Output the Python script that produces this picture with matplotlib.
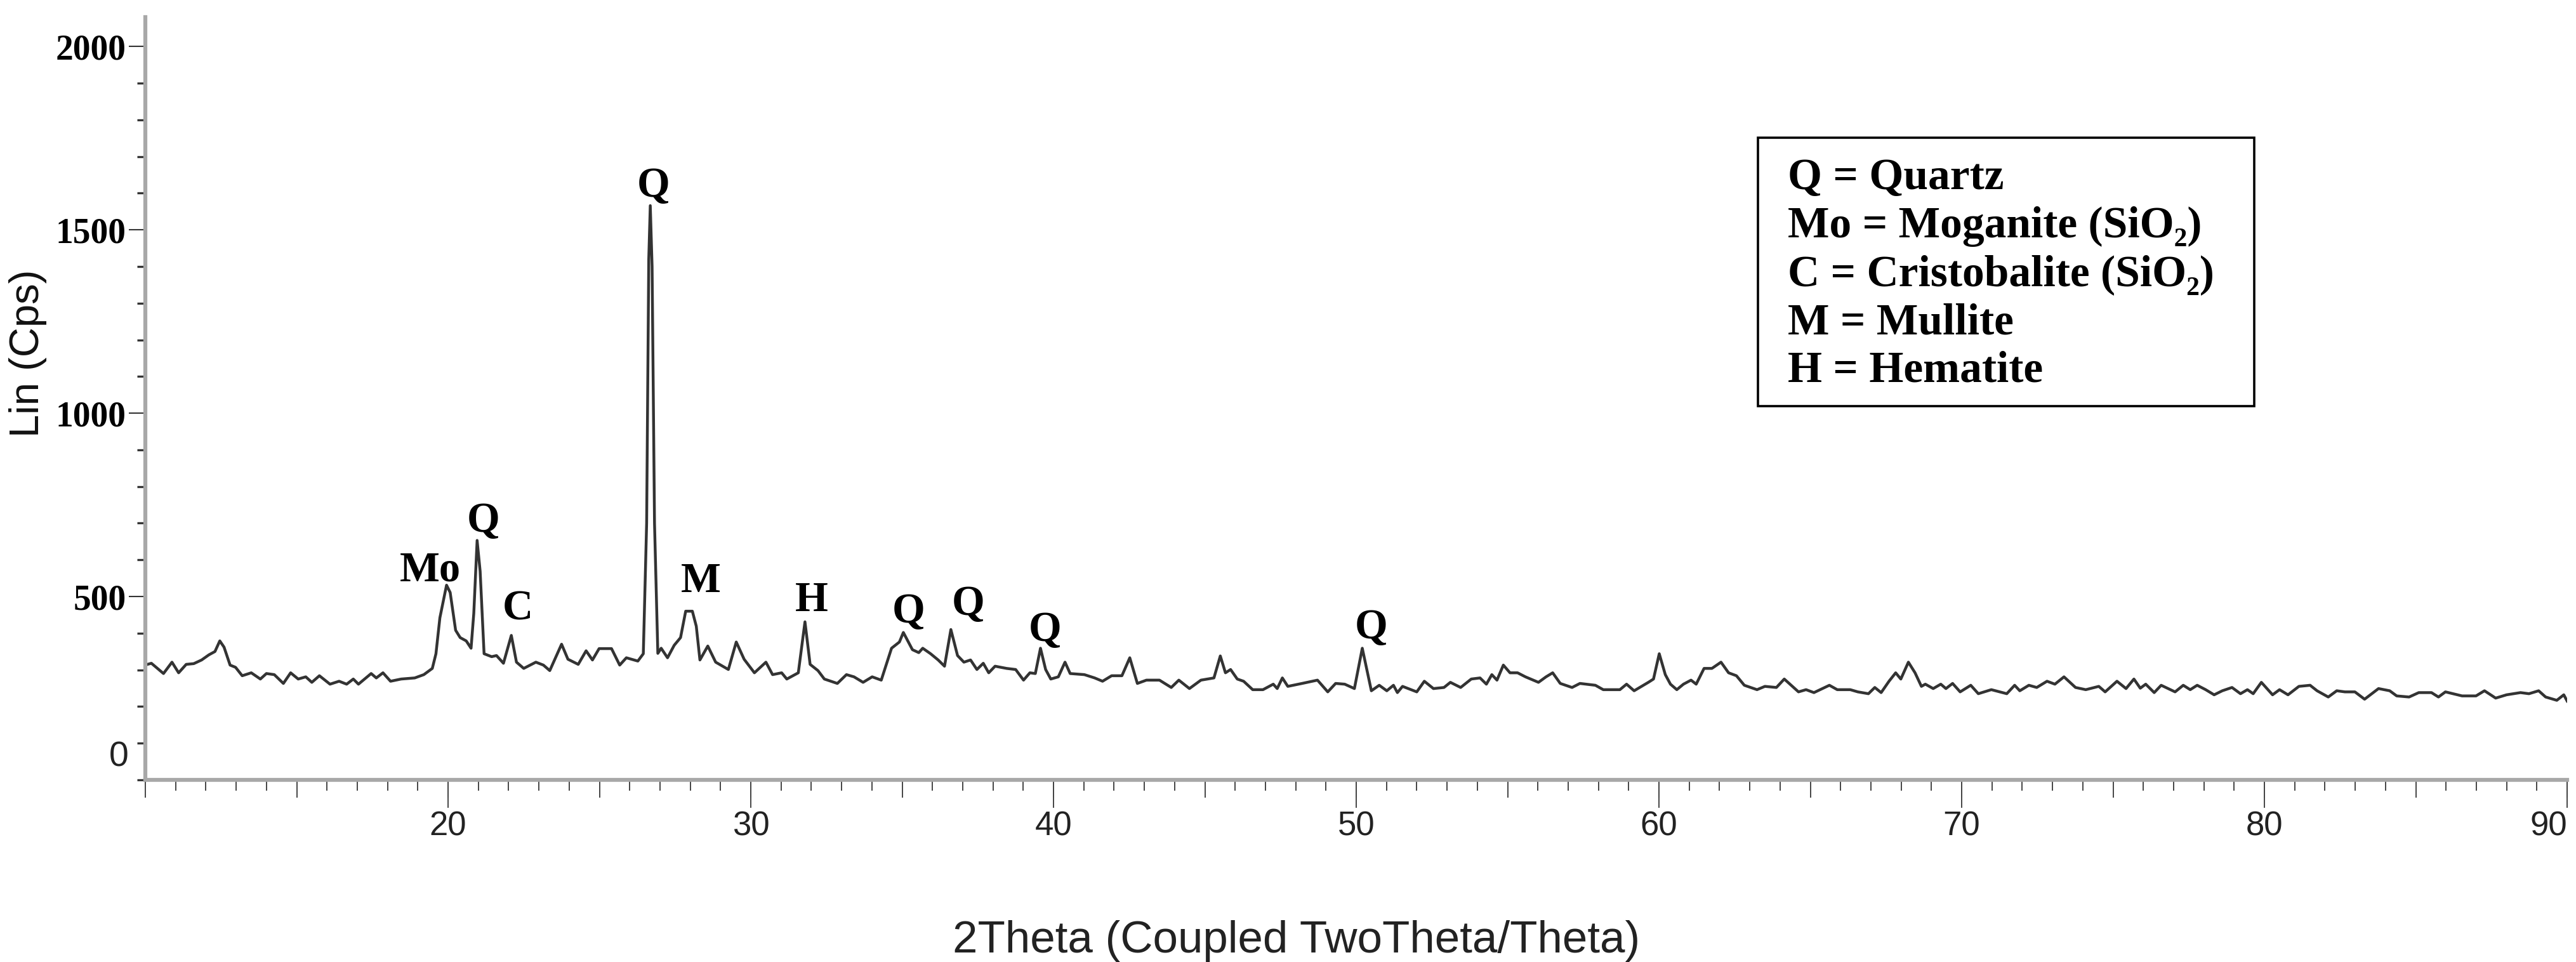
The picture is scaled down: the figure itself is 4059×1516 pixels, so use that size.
import matplotlib
matplotlib.use("Agg")
import matplotlib.pyplot as plt
from matplotlib.ticker import MultipleLocator, FixedLocator, NullFormatter
from matplotlib.patches import Rectangle

# XRD pattern (2theta in degrees, Lin counts)
two_theta = [
    10.0, 10.07, 10.2, 10.6, 10.88, 11.1, 11.35, 11.6, 11.86, 12.1, 12.3, 12.46,
    12.6, 12.8, 12.98, 13.2, 13.5, 13.8, 14.0, 14.26, 14.56, 14.8, 15.05, 15.3,
    15.5, 15.75, 16.1, 16.4, 16.65, 16.87, 17.04, 17.46, 17.63, 17.85, 18.1, 18.45,
    18.9, 19.2, 19.48, 19.6, 19.73, 19.95, 20.07, 20.25, 20.4, 20.6, 20.76, 20.85,
    20.96, 21.06, 21.19, 21.44, 21.6, 21.83, 22.09, 22.26, 22.5, 22.9, 23.15, 23.36,
    23.75, 23.96, 24.3, 24.56, 24.77, 24.99, 25.4, 25.67, 25.89, 26.27, 26.45, 26.56,
    26.63, 26.68, 26.74, 26.82, 26.93, 27.04, 27.25, 27.47, 27.68, 27.85, 28.07, 28.2,
    28.32, 28.58, 28.84, 29.26, 29.52, 29.78, 30.12, 30.5, 30.72, 31.02, 31.19, 31.57,
    31.79, 31.96, 32.22, 32.43, 32.86, 33.16, 33.41, 33.71, 34.01, 34.31, 34.65, 34.91,
    35.04, 35.34, 35.55, 35.68, 35.94, 36.19, 36.4, 36.61, 36.83, 37.04, 37.26, 37.47,
    37.68, 37.86, 38.07, 38.45, 38.75, 39.01, 39.22, 39.4, 39.57, 39.74, 39.91, 40.16,
    40.38, 40.55, 41.02, 41.36, 41.62, 41.92, 42.26, 42.52, 42.77, 43.07, 43.5, 43.89,
    44.14, 44.49, 44.87, 45.3, 45.51, 45.68, 45.85, 46.07, 46.28, 46.58, 46.92, 47.26,
    47.39, 47.56, 47.74, 48.21, 48.72, 49.06, 49.32, 49.62, 49.94, 50.2, 50.5, 50.76,
    51.01, 51.23, 51.36, 51.53, 52.0, 52.25, 52.55, 52.9, 53.11, 53.45, 53.8, 54.09,
    54.3, 54.48, 54.65, 54.86, 55.08, 55.33, 55.59, 56.02, 56.27, 56.49, 56.74, 57.13,
    57.39, 57.9, 58.16, 58.71, 58.93, 59.18, 59.65, 59.82, 60.01, 60.21, 60.38, 60.59,
    60.81, 61.06, 61.23, 61.49, 61.75, 62.05, 62.3, 62.56, 62.82, 63.24, 63.5, 63.88,
    64.14, 64.61, 64.86, 65.12, 65.63, 65.89, 66.32, 66.57, 66.92, 67.13, 67.34, 67.6,
    67.82, 67.99, 68.24, 68.46, 68.67, 68.8, 69.06, 69.31, 69.48, 69.7, 69.95, 70.3,
    70.55, 70.98, 71.49, 71.75, 71.92, 72.22, 72.48, 72.82, 73.08, 73.38, 73.76, 74.1,
    74.53, 74.74, 75.13, 75.43, 75.69, 75.9, 76.08, 76.36, 76.59, 77.05, 77.32, 77.55,
    77.78, 78.06, 78.34, 78.61, 78.93, 79.21, 79.44, 79.63, 79.9, 80.27, 80.5, 80.78,
    81.14, 81.51, 81.74, 82.11, 82.39, 82.66, 82.99, 83.31, 83.77, 84.14, 84.37, 84.78,
    85.1, 85.52, 85.75, 85.98, 86.53, 86.99, 87.27, 87.64, 88.0, 88.46, 88.74, 89.06,
    89.29, 89.66, 89.89, 90.0,
]
intensity = [
    313, 315, 318, 290, 321, 292, 315, 317, 327, 341, 350, 379,
    362, 313, 307, 284, 292, 275, 290, 287, 263, 292, 275, 281,
    266, 284, 261, 269, 261, 275, 261, 290, 278, 292, 269, 275,
    278, 287, 304, 344, 442, 531, 511, 408, 388, 379, 359, 454,
    653, 569, 344, 336, 339, 318, 394, 321, 304, 321, 313, 298,
    370, 329, 315, 352, 327, 358, 358, 313, 333, 324, 344, 700,
    1420, 1566, 1400, 700, 345, 359, 333, 367, 388, 460, 460, 419,
    327, 365, 321, 301, 376, 329, 292, 321, 287, 292, 275, 292,
    431, 315, 298, 275, 263, 287, 281, 266, 281, 272, 359, 376,
    402, 355, 347, 359, 344, 327, 310, 410, 339, 321, 327, 301,
    318, 292, 310, 304, 301, 272, 292, 290, 359, 301, 275, 281,
    321, 290, 287, 278, 269, 284, 284, 333, 263, 272, 272, 252,
    272, 249, 272, 278, 338, 292, 301, 275, 269, 246, 246, 261,
    249, 278, 255, 263, 272, 240, 263, 261, 249, 359, 243, 258,
    243, 258, 238, 255, 240, 269, 249, 252, 266, 252, 275, 278,
    261, 287, 272, 313, 292, 292, 281, 266, 281, 292, 263, 252,
    263, 258, 246, 246, 261, 243, 266, 275, 344, 287, 261, 246,
    261, 272, 261, 304, 304, 321, 292, 284, 258, 246, 255, 252,
    275, 240, 246, 238, 258, 246, 246, 240, 235, 252, 238, 269,
    292, 275, 321, 292, 255, 261, 249, 261, 249, 263, 240, 258,
    235, 246, 235, 258, 243, 258, 252, 269, 261, 281, 252, 246,
    255, 240, 269, 249, 275, 250, 261, 238, 258, 240, 258, 246,
    258, 246, 232, 243, 252, 235, 246, 235, 266, 232, 246, 232,
    255, 258, 243, 226, 243, 240, 240, 220, 249, 243, 229, 226,
    238, 238, 226, 240, 229, 229, 243, 223, 232, 238, 235, 243,
    226, 217, 232, 215,
]

# phase labels above the peaks
peak_labels = ["Mo", "Q", "C", "Q", "M", "H", "Q", "Q", "Q", "Q"]
label_theta = [19.41, 21.17, 22.3, 26.79, 28.34, 32.0, 35.22, 37.19, 39.73, 50.5]
label_lin = [571, 706, 465, 1619, 541, 488, 457, 479, 408, 414]

legend_lines = ["Q = Quartz", "Mo = Moganite (SiO\u2082)", "C = Cristobalite (SiO\u2082)",
                "M = Mullite", "H = Hematite"]

y_major = [500, 1000, 1500, 2000]
x_labelled = [20, 30, 40, 50, 60, 70, 80, 90]

W, H, DPI = 4059, 1516, 100
SERIF = ["Liberation Serif", "DejaVu Serif"]
SANS = ["Liberation Sans", "DejaVu Sans"]

fig = plt.figure(figsize=(W / DPI, H / DPI), dpi=DPI)
fig.patch.set_facecolor("white")
ax = fig.add_axes([229 / W, 1 - 1229 / H, (4045 - 229) / W, (1229 - 27) / H])

ax.plot(two_theta, intensity, color="#333333", lw=3.2, solid_joinstyle="round")
ax.set_xlim(10, 90)
ax.set_ylim(0, 2080)

for s in ("top", "right"):
    ax.spines[s].set_visible(False)
for s in ("left", "bottom"):
    ax.spines[s].set_color("#a8a8a8")
    ax.spines[s].set_linewidth(4.5)

# x: minor every degree, medium every 5, long + labels every 10
ax.xaxis.set_major_locator(MultipleLocator(5))
ax.xaxis.set_minor_locator(MultipleLocator(1))
ax.xaxis.set_major_formatter(NullFormatter())
ax.tick_params(axis="x", which="major", length=20, width=1.4, color="#444444")
ax.tick_params(axis="x", which="minor", length=12, width=1.4, color="#444444")

sec = ax.secondary_xaxis("bottom")
sec.set_xticks(x_labelled)
sec.tick_params(length=32, width=1.4, color="#444444", pad=3, labelsize=38)
sec.spines["bottom"].set_visible(False)
xlabels = sec.get_xticklabels()
for t in xlabels:
    t.set_family(SANS)
    t.set_color("#222222")
xlabels[-1].set_horizontalalignment("right")

# y: labelled every 500, minor every 100
ax.yaxis.set_major_locator(FixedLocator(y_major))
ax.yaxis.set_minor_locator(MultipleLocator(100))
ax.tick_params(axis="y", which="major", length=19, width=1.5, color="#333333", pad=3,
               labelsize=40)
ax.tick_params(axis="y", which="minor", length=9.5, width=2.4, color="#333333")
for t in ax.get_yticklabels():
    t.set_family(SERIF)
    t.set_fontweight("bold")
ax.text(-0.011, 62, "0", transform=ax.get_yaxis_transform(), ha="center", va="center",
        fontsize=40, family=SANS, color="#222222")

for lab, x, y in zip(peak_labels, label_theta, label_lin):
    ax.text(x, y, lab, ha="center", va="center", fontsize=48, fontweight="bold",
            family=SERIF, color="black")

fig.text(44 / W, 1 - 557 / H, "Lin (Cps)", rotation=90, ha="center", va="center",
         fontsize=47, family=SANS, color="#111111")
fig.text(2043 / W, 1 - 1483 / H, "2Theta (Coupled TwoTheta/Theta)", ha="center",
         va="center", fontsize=51, family=SANS, color="#222222")

# legend box
fig.patches.append(Rectangle((2770 / W, 1 - 640 / H), 782 / W, 423 / H,
                             transform=fig.transFigure, fill=False, edgecolor="black",
                             linewidth=2.6))
for i, line in enumerate(legend_lines):
    fig.text(2817 / W, 1 - (298 + 76 * i) / H, line, ha="left", va="baseline",
             fontsize=50, fontweight="bold", family=SERIF, color="black")

fig.savefig("out.png", dpi=DPI, facecolor="white")
